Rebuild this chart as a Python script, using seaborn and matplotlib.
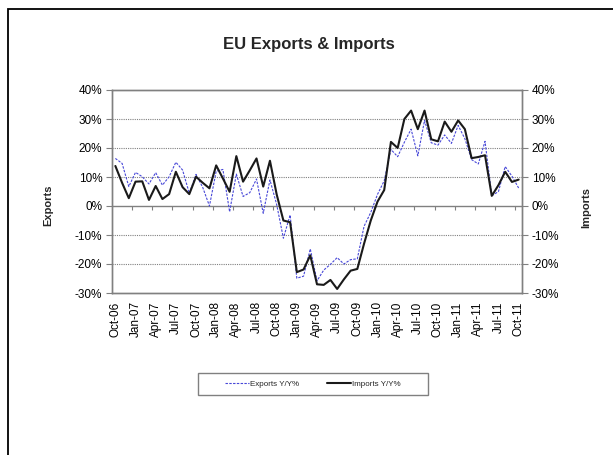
import numpy as np
import pandas as pd
import matplotlib
matplotlib.use("Agg")
import matplotlib.pyplot as plt
from matplotlib.patches import Rectangle
import seaborn as sns

# Monthly year-on-year change, Oct-06 .. Oct-11 (61 months)
exports_yy = [16.4, 14.7, 6.7, 11.6, 10.1, 7.6, 11.5, 7.2, 10.1, 15.1,
              12.4, 4.4, 10.9, 6.4, 0.0, 12.0, 12.6, -2.0, 11.0, 3.3,
              4.6, 9.3, -2.5, 9.0, 0.5, -11.1, -3.1, -24.9, -24.2, -14.8,
              -25.8, -22.1, -20.1, -17.8, -20.0, -18.5, -18.2, -7.0, -2.2, 4.0,
              8.7, 19.5, 17.0, 22.0, 26.5, 17.3, 29.5, 21.8, 21.0, 24.5,
              21.6, 27.8, 23.2, 16.0, 14.5, 22.3, 3.5, 5.0, 13.6, 10.3,
              6.2]
imports_yy = [13.8, 8.0, 2.7, 8.4, 8.5, 2.1, 6.9, 2.4, 4.1, 11.8,
              6.5, 4.1, 10.1, 8.0, 6.1, 14.0, 9.5, 4.9, 17.2, 8.4,
              12.3, 16.4, 6.7, 15.6, 4.0, -5.0, -5.6, -22.8, -21.9, -17.0,
              -27.0, -27.2, -25.5, -28.6, -25.3, -22.3, -21.7, -13.0, -5.0, 1.5,
              5.5, 22.1, 20.0, 30.0, 32.9, 26.5, 32.9, 23.0, 22.3, 29.1,
              25.6, 29.5, 26.5, 16.5, 16.9, 17.5, 3.5, 7.2, 11.8, 8.3,
              9.1]
tick_labels = ["Oct-06", "Jan-07", "Apr-07", "Jul-07", "Oct-07", "Jan-08",
               "Apr-08", "Jul-08", "Oct-08", "Jan-09", "Apr-09", "Jul-09",
               "Oct-09", "Jan-10", "Apr-10", "Jul-10", "Oct-10", "Jan-11",
               "Apr-11", "Jul-11", "Oct-11"]
y_ticks = [-30, -20, -10, 0, 10, 20, 30, 40]

months = pd.date_range("2006-10-01", periods=len(exports_yy), freq="MS")
df = pd.DataFrame({"month": months,
                   "pos": np.arange(len(months)),
                   "exports": exports_yy,
                   "imports": imports_yy})

sns.set_theme(style="white")
plt.rcParams["font.family"] = ["Liberation Sans", "DejaVu Sans"]

W, H = 613, 455
fig = plt.figure(figsize=(W / 100, H / 100), dpi=100)
fig.patch.set_facecolor("white")

# outer chart border
fig.add_artist(Rectangle((8 / W, -0.2), 1.5, 1.2 - 9 / H,
                         transform=fig.transFigure, fill=False,
                         edgecolor="black", linewidth=1.3))

ax = fig.add_axes([112 / W, 1 - 293 / H, (522 - 112) / W, (293 - 90) / H])
ax2 = ax.twinx()

grey = "#808080"
sns.lineplot(data=df, x="pos", y="exports", ax=ax, color="#4848d8",
             linewidth=0.8, legend=False, zorder=3)
ax.lines[-1].set_linestyle((0, (2.2, 1.2)))
sns.lineplot(data=df, x="pos", y="imports", ax=ax2, color="#1a1a1a",
             linewidth=1.5, legend=False, zorder=3)

n = len(df)
for a in (ax, ax2):
    a.set_ylim(-30, 40)
    a.set_xlim(-0.5, n - 0.5)
    a.set_yticks(y_ticks)
    a.set_yticklabels([f"{v}%" for v in y_ticks])
    a.set_xlabel("")
    a.set_ylabel("")
    for s in a.spines.values():
        s.set_color(grey)
        s.set_linewidth(1.0)
    a.tick_params(axis="y", length=4, width=0.8, color=grey,
                  labelsize=8.5, labelcolor="black", pad=3)

# horizontal gridlines
for v in y_ticks[1:-1]:
    if v == 0:
        ax.axhline(v, color=grey, linewidth=1.0, zorder=1)
    else:
        ax.axhline(v, color=grey, linewidth=0.8, linestyle=(0, (1, 1)), zorder=1)

ax.set_xticks(np.arange(0, n, 3))
ax.set_xticklabels(tick_labels, rotation=90, fontsize=8.5, color="black")
ax.tick_params(axis="x", length=0, pad=6, labelbottom=True)
ax.tick_params(axis="y", left=True, right=False)
ax2.tick_params(axis="y", left=False, right=True)

# category tick marks on the zero line
zero = ax.secondary_xaxis(3 / 7)
zero.set_xticks(np.arange(2.5, n - 1, 3))
zero.tick_params(axis="x", length=3, width=0.8, color=grey,
                 labelbottom=False, labeltop=False, bottom=True, top=False)
zero.spines["bottom"].set_visible(False)
zero.spines["top"].set_visible(False)

fig.text(309 / W, 1 - 45 / H, "EU Exports & Imports", ha="center",
         va="center", fontsize=12, fontweight="bold")
fig.text(48 / W, 1 - 205 / H, "Exports", ha="center", va="center",
         rotation=90, fontsize=8, fontweight="bold")
fig.text(586 / W, 1 - 208 / H, "Imports", ha="center", va="center",
         rotation=90, fontsize=8, fontweight="bold")

# legend
handles = [ax.lines[0], ax2.lines[0]]
leg = fig.legend(handles, ["Exports Y/Y%", "Imports Y/Y%"], ncol=2,
                 loc="center", bbox_to_anchor=(313 / W, 1 - 384 / H),
                 frameon=False, fontsize=5.8, handlelength=3.0,
                 handletextpad=0.15, columnspacing=3.4)
fig.add_artist(Rectangle((198 / W, 1 - 395 / H), 230 / W, 22 / H,
                         transform=fig.transFigure, fill=False,
                         edgecolor=grey, linewidth=1.0))

fig.savefig("out.png", dpi=100, facecolor="white")
